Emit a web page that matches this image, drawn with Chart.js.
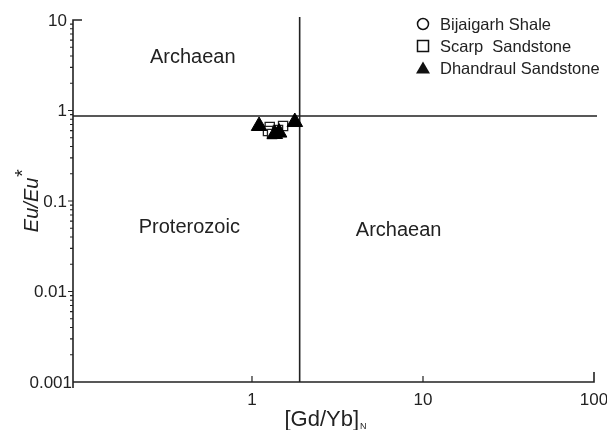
<!DOCTYPE html>
<html>
<head>
<meta charset="utf-8">
<script src="https://cdn.jsdelivr.net/npm/chart.js@4.4.1/dist/chart.umd.min.js"></script>
<style>
  html, body { margin: 0; padding: 0; background: #fff; }
  #wrap { width: 607px; height: 430px; }
</style>
</head>
<body>
<div id="wrap"><canvas id="c" width="607" height="430"></canvas></div>
<script>
// Series: [Gd/Yb]N versus Eu/Eu*
const seriesNames = ['Bijaigarh Shale', 'Scarp  Sandstone', 'Dhandraul Sandstone'];
const bijaigarhX = [];
const bijaigarhY = [];
const scarpX = [1.52, 1.27, 1.24, 1.31, 1.42];
const scarpY = [0.674, 0.658, 0.593, 0.55, 0.608];
const dhandraulX = [1.10, 1.36, 1.78, 1.44];
const dhandraulY = [0.674, 0.55, 0.746, 0.57];

// Field boundaries
const boundaryGdYb = 1.9;
const boundaryEu = 0.87;

// Axis ticks
const xTickValues = [1, 10, 100];
const xTickLabels = ['1', '10', '100'];
const yTickValues = [0.001, 0.01, 0.1, 1, 10];
const yTickLabels = ['0.001', '0.01', '0.1', '1', '10'];

// Field names
const fieldLabels = [
  { text: 'Archaean', x: 0.45, y: 3.9 },
  { text: 'Proterozoic', x: 0.43, y: 0.0516 },
  { text: 'Archaean', x: 7.2, y: 0.0478 }
];

const toPoints = (xs, ys) => xs.map((x, i) => ({ x: x, y: ys[i] }));

const FONT = '"Liberation Sans", Arial, sans-serif';

const frame = {
  id: 'frame',
  beforeDatasetsDraw(chart) {
    const ctx = chart.ctx;
    const xs = chart.scales.x, ys = chart.scales.y;
    const a = chart.chartArea;
    ctx.save();
    ctx.strokeStyle = '#222';
    ctx.lineWidth = 1.6;
    // boundary lines
    const bx = xs.getPixelForValue(boundaryGdYb);
    const by = ys.getPixelForValue(boundaryEu);
    ctx.beginPath();
    ctx.moveTo(bx, a.top - 3);
    ctx.lineTo(bx, a.bottom);
    ctx.moveTo(a.left, by);
    ctx.lineTo(a.right + 3, by);
    ctx.stroke();
    ctx.restore();
  },
  afterDraw(chart) {
    const ctx = chart.ctx;
    const xs = chart.scales.x, ys = chart.scales.y;
    const a = chart.chartArea;
    ctx.save();
    ctx.strokeStyle = '#222';
    ctx.fillStyle = '#222';
    ctx.lineWidth = 1.6;
    // axis lines
    ctx.beginPath();
    ctx.moveTo(a.left + 9, a.top);
    ctx.lineTo(a.left, a.top);
    ctx.lineTo(a.left, a.bottom + 6);
    ctx.moveTo(a.left, a.bottom);
    ctx.lineTo(a.right, a.bottom);
    ctx.lineTo(a.right, a.bottom - 10);
    ctx.stroke();
    // x ticks (inward)
    ctx.lineWidth = 1.2;
    ctx.beginPath();
    xTickValues.forEach(v => {
      const px = xs.getPixelForValue(v);
      if (px < a.right - 1) {
        ctx.moveTo(px, a.bottom);
        ctx.lineTo(px, a.bottom - 6);
      }
    });
    // y ticks (outward): majors and minors
    yTickValues.forEach((v, i) => {
      const py = ys.getPixelForValue(v);
      if (i > 0 && i < yTickValues.length - 1) {
        ctx.moveTo(a.left, py);
        ctx.lineTo(a.left - 5, py);
      }
      if (i < yTickValues.length - 1) {
        for (let m = 2; m <= 9; m++) {
          const pm = ys.getPixelForValue(v * m);
          ctx.moveTo(a.left, pm);
          ctx.lineTo(a.left - 3, pm);
        }
      }
    });
    ctx.stroke();

    // tick labels
    ctx.font = '17px ' + FONT;
    ctx.textAlign = 'center';
    ctx.textBaseline = 'top';
    xTickValues.forEach((v, i) => {
      ctx.fillText(xTickLabels[i], xs.getPixelForValue(v), a.bottom + 10);
    });
    ctx.textAlign = 'right';
    ctx.textBaseline = 'middle';
    yTickValues.forEach((v, i) => {
      const py = ys.getPixelForValue(v);
      const dx = i === 0 ? 1 : 6;
      ctx.fillText(yTickLabels[i], a.left - dx, py + 1);
    });

    // axis titles
    ctx.textAlign = 'left';
    ctx.textBaseline = 'alphabetic';
    const t1 = '[Gd/Yb]';
    ctx.font = '22px ' + FONT;
    const w1 = ctx.measureText(t1).width;
    ctx.font = '9px ' + FONT;
    const w2 = ctx.measureText('N').width;
    const cx = xs.getPixelForValue(Math.sqrt(xs.min * xs.max)) - 8;
    const sx = cx - (w1 + w2 + 1) / 2;
    ctx.font = '22px ' + FONT;
    ctx.fillText(t1, sx, 426);
    ctx.font = '9px ' + FONT;
    ctx.fillText('N', sx + w1 + 1, 429);

    ctx.save();
    ctx.translate(38, (a.top + a.bottom) / 2);
    ctx.rotate(-Math.PI / 2);
    ctx.font = 'italic 20px ' + FONT;
    const ty = 'Eu/Eu';
    const wy = ctx.measureText(ty).width;
    const wstar = ctx.measureText('*').width;
    const sy = -(wy + wstar) / 2;
    ctx.fillText(ty, sy, 0);
    ctx.fillText('*', sy + wy, -9);
    ctx.restore();

    // field labels
    ctx.font = '20px ' + FONT;
    ctx.textAlign = 'center';
    ctx.textBaseline = 'middle';
    fieldLabels.forEach(f => {
      ctx.fillText(f.text, xs.getPixelForValue(f.x), ys.getPixelForValue(f.y));
    });

    // legend
    const lx = 423, ly0 = 24, step = 22;
    ctx.font = '16.5px ' + FONT;
    ctx.textAlign = 'left';
    ctx.textBaseline = 'middle';
    seriesNames.forEach((name, i) => {
      const ly = ly0 + i * step;
      ctx.lineWidth = 1.5;
      ctx.strokeStyle = '#111';
      ctx.fillStyle = '#111';
      ctx.beginPath();
      if (i === 0) {
        ctx.arc(lx, ly, 5.5, 0, Math.PI * 2);
        ctx.stroke();
      } else if (i === 1) {
        ctx.rect(lx - 5.5, ly - 5.5, 11, 11);
        ctx.stroke();
      } else {
        ctx.moveTo(lx, ly - 6.5);
        ctx.lineTo(lx + 7, ly + 5.5);
        ctx.lineTo(lx - 7, ly + 5.5);
        ctx.closePath();
        ctx.fill();
      }
      ctx.fillStyle = '#222';
      ctx.fillText(name, lx + 17, ly + 1);
    });
    ctx.restore();
  }
};

new Chart(document.getElementById('c'), {
  type: 'scatter',
  data: {
    datasets: [
      {
        label: seriesNames[0],
        data: toPoints(bijaigarhX, bijaigarhY),
        pointStyle: 'circle',
        pointRadius: 5,
        backgroundColor: '#fff',
        borderColor: '#111',
        borderWidth: 1.3,
        order: 3
      },
      {
        label: seriesNames[1],
        data: toPoints(scarpX, scarpY),
        pointStyle: 'rect',
        pointRadius: 6.5,
        backgroundColor: '#fff',
        borderColor: '#222',
        borderWidth: 1.3,
        order: 2
      },
      {
        label: seriesNames[2],
        data: toPoints(dhandraulX, dhandraulY),
        pointStyle: 'triangle',
        pointRadius: 9,
        backgroundColor: '#000',
        borderColor: '#000',
        borderWidth: 1,
        order: 1
      }
    ]
  },
  options: {
    responsive: false,
    animation: false,
    events: [],
    layout: { padding: { left: 73, right: 13, top: 20, bottom: 48 } },
    plugins: { legend: { display: false }, tooltip: { enabled: false } },
    scales: {
      x: { type: 'logarithmic', min: 0.0898, max: 100, display: false },
      y: { type: 'logarithmic', min: 0.001, max: 10, display: false }
    }
  },
  plugins: [frame]
});
</script>
</body>
</html>
